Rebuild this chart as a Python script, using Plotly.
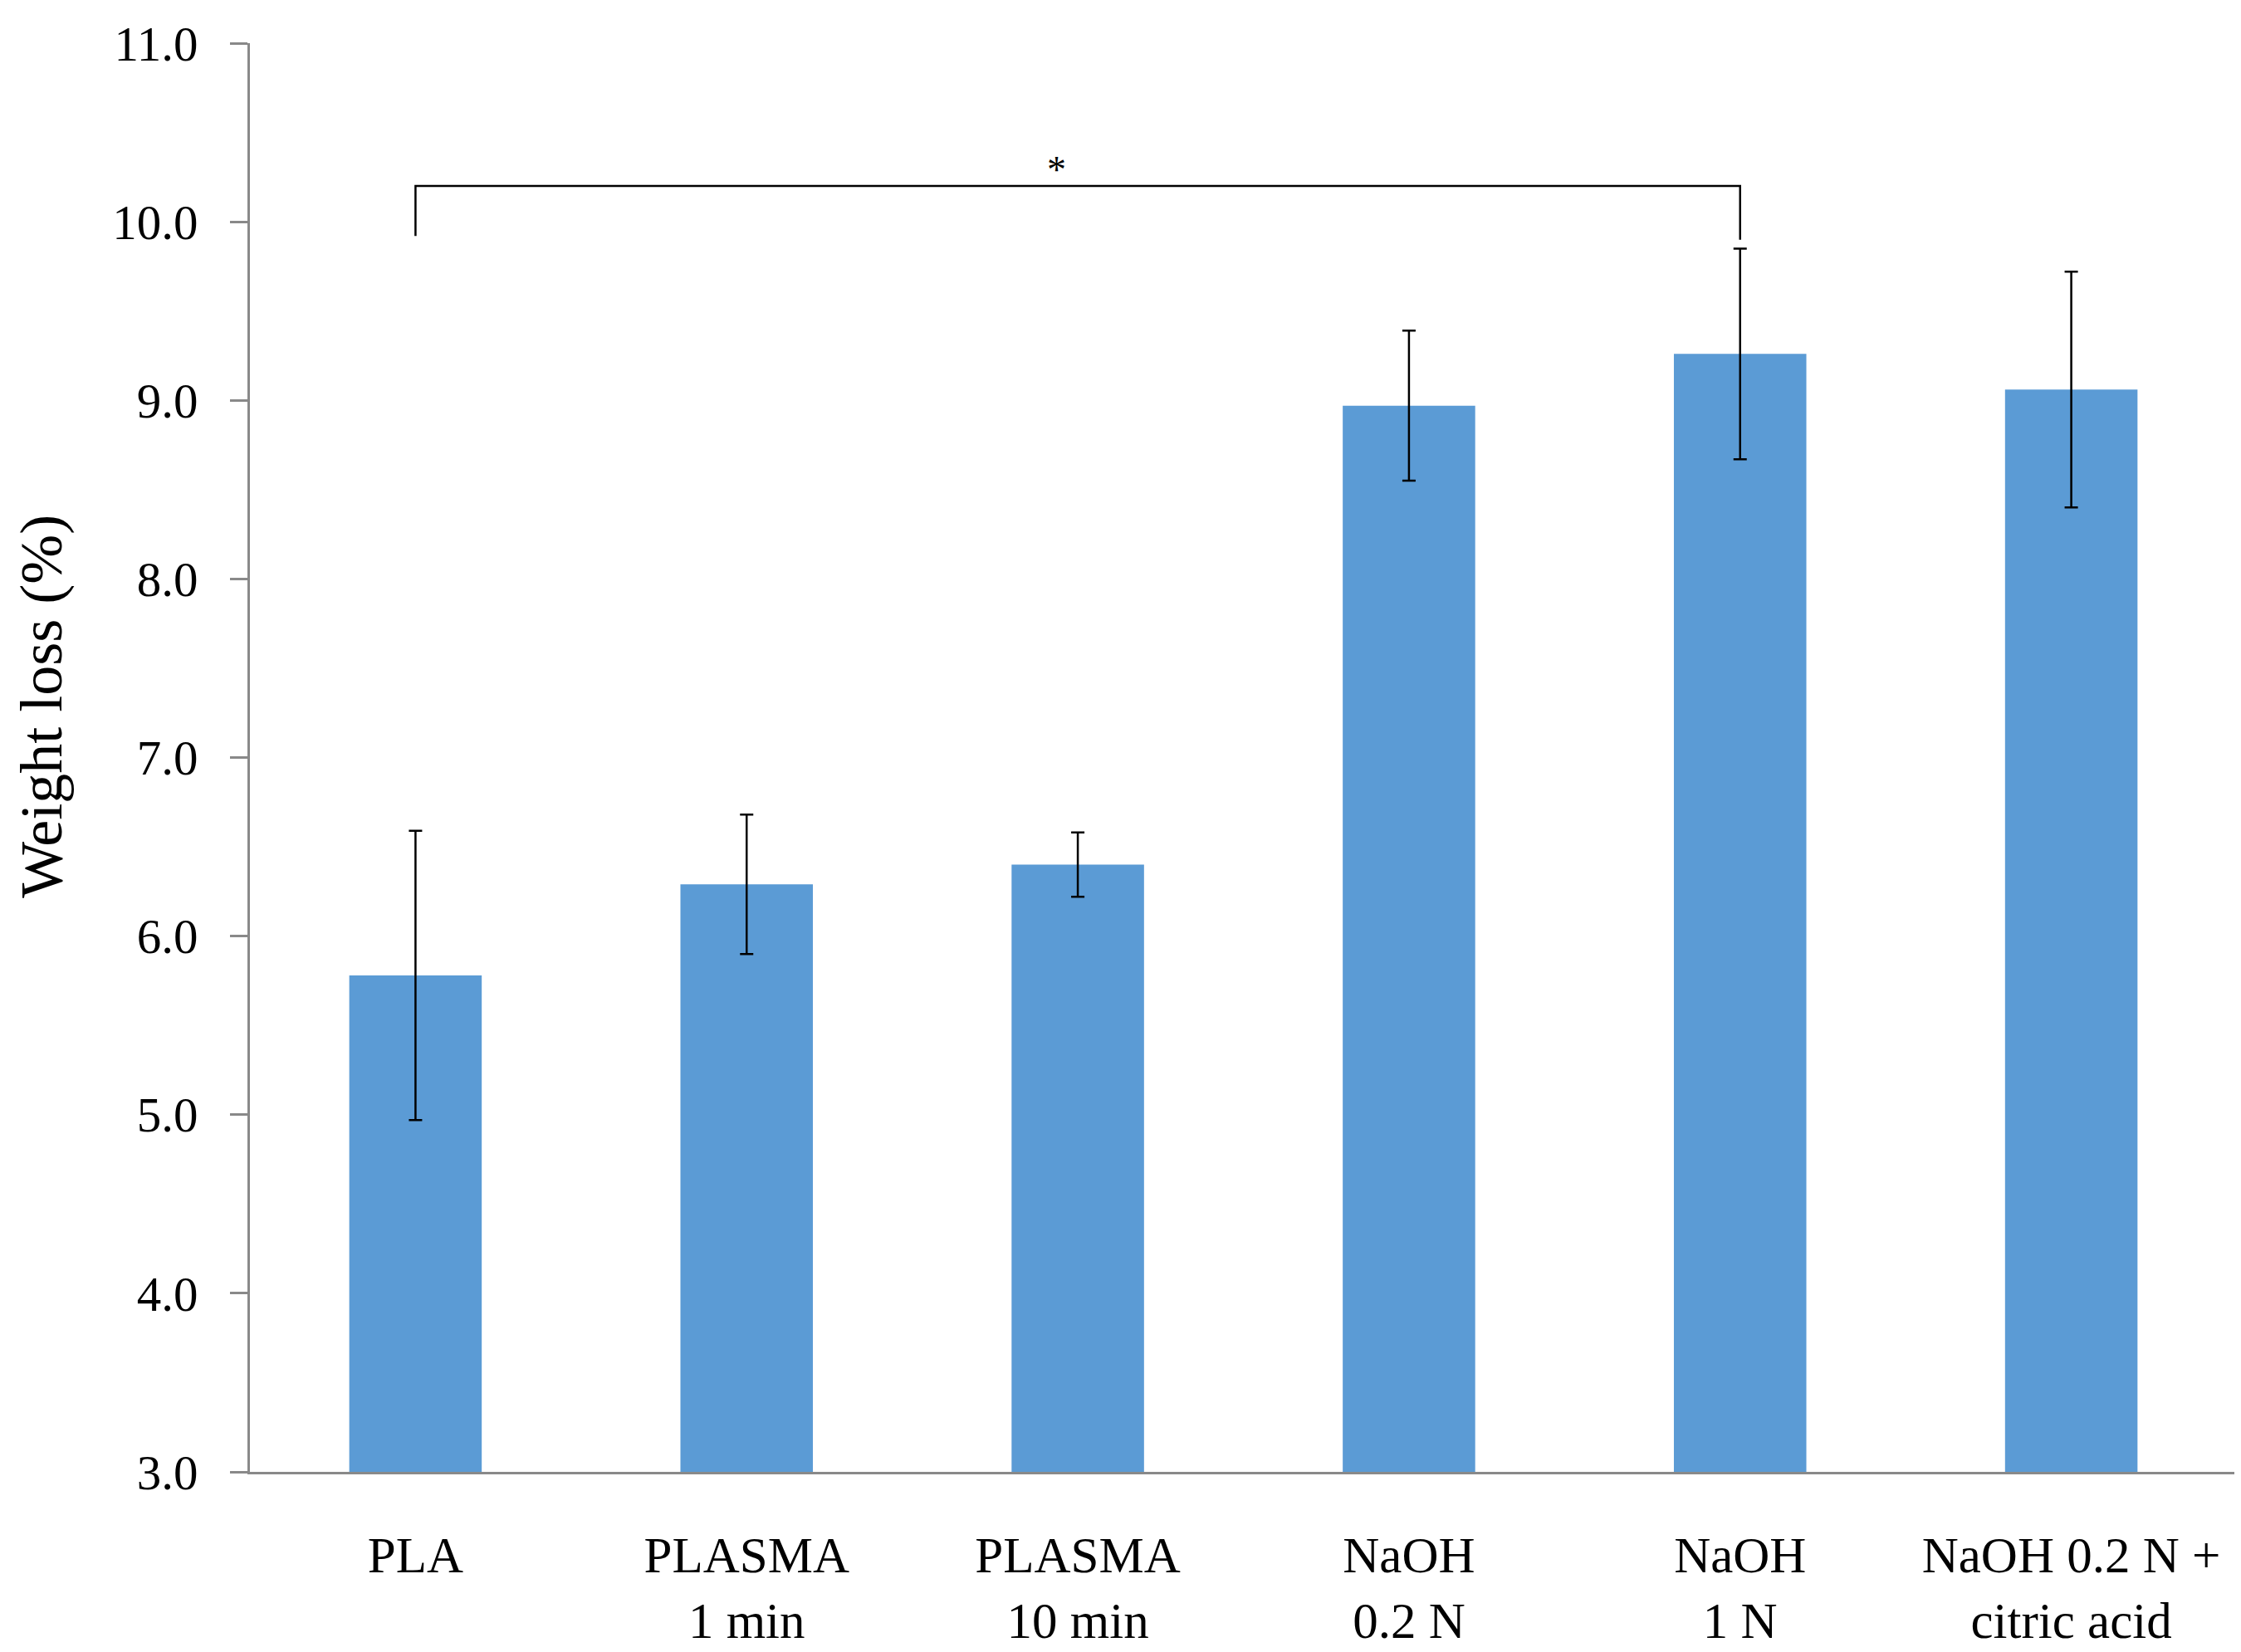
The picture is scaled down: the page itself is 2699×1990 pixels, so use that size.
import plotly.graph_objects as go

categories = ["PLA", "PLASMA<br>1 min", "PLASMA<br>10 min", "NaOH<br>0.2 N", "NaOH<br>1 N",
              "NaOH 0.2 N +<br>citric acid"]
weight_loss = [5.78, 6.29, 6.40, 8.97, 9.26, 9.06]
std_dev = [0.81, 0.39, 0.18, 0.42, 0.59, 0.66]
y_ticks = [3.0, 4.0, 5.0, 6.0, 7.0, 8.0, 9.0, 10.0, 11.0]

# significance bracket: between category indices, at given height, with leg end heights
bracket_from, bracket_to = 0, 4
bracket_top = 10.2
bracket_legs = [9.92, 9.9]
bracket_label = "*"

FONT = "Liberation Serif"
W, H = 2699, 1990
L, R, T, B = 293, 13, 34, 211

fig = go.Figure()
fig.add_trace(go.Bar(
    x=list(range(len(categories))), y=weight_loss, width=0.4,
    marker=dict(color="#5B9BD5", line=dict(width=0)),
    error_y=dict(type="data", array=std_dev, visible=True, color="black",
                 thickness=2.5, width=8),
))

fig.add_shape(type="path",
              path=f"M {bracket_from},{bracket_legs[0]} L {bracket_from},{bracket_top} "
                   f"L {bracket_to},{bracket_top} L {bracket_to},{bracket_legs[1]}",
              xref="x", yref="y", line=dict(color="black", width=2.5))
fig.add_annotation(x=(bracket_from + bracket_to) / 2, y=bracket_top, text=bracket_label,
                   showarrow=False, yanchor="bottom", yshift=-8, xshift=-26,
                   font=dict(family=FONT, size=46, color="black"))

fig.add_annotation(text="Weight loss (%)", textangle=-90, xref="paper", yref="paper",
                   x=(42 - L) / (W - L - R), y=(H - B - 844) / (H - B - T),
                   showarrow=False, xanchor="center", yanchor="middle",
                   font=dict(family=FONT, size=72, color="black"))

fig.update_layout(
    width=W, height=H, margin=dict(l=L, r=R, t=T, b=B),
    paper_bgcolor="white", plot_bgcolor="white", showlegend=False,
    font=dict(family=FONT, size=58, color="black"),
    bargap=0.6,
)
fig.update_xaxes(range=[-0.5, len(categories) - 0.5], tickvals=list(range(len(categories))),
                 ticktext=categories, showgrid=False, zeroline=False,
                 showline=True, linecolor="#898989", linewidth=2.5, ticks="",
                 ticklabelstandoff=45, tickfont=dict(family=FONT, size=61, color="black"))
fig.update_yaxes(range=[3, 11], tickvals=y_ticks, tickformat=".1f", showgrid=False,
                 zeroline=False, showline=True, linecolor="#898989", linewidth=2.5,
                 ticks="outside", ticklen=21, tickwidth=2.5, tickcolor="#898989",
                 ticklabelstandoff=27, tickfont=dict(family=FONT, size=59, color="black"))

fig.write_html("out.html")
